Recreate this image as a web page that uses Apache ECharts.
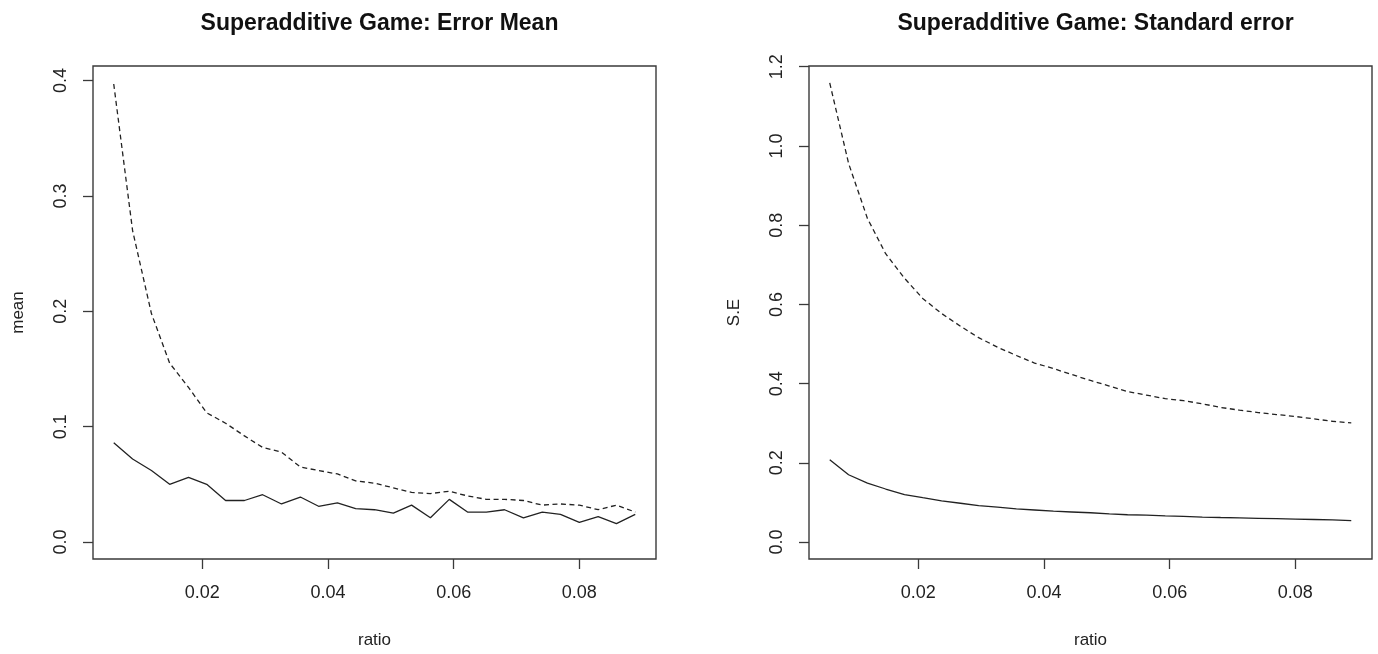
<!DOCTYPE html>
<html>
<head>
<meta charset="utf-8">
<script src="https://cdn.jsdelivr.net/npm/echarts@6/dist/echarts.min.js"></script>
<style>
html,body{margin:0;padding:0;background:#fff;}
#chart{width:1378px;height:654px;}
</style>
</head>
<body>
<div id="chart"></div>
<script>
// ---- data ----
var ratio = [0.0059,0.0089,0.0119,0.0148,0.0178,0.0207,0.0237,0.0267,0.0296,0.0326,0.0356,0.0385,0.0415,0.0444,0.0474,
             0.0504,0.0533,0.0563,0.0593,0.0622,0.0652,0.0681,0.0711,0.0741,0.0770,0.0800,0.0830,0.0859,0.0889];
var meanSolid = [0.086,0.072,0.062,0.050,0.056,0.050,0.036,0.036,0.041,0.033,0.039,0.031,0.034,0.029,0.028,
                 0.025,0.032,0.021,0.037,0.026,0.026,0.028,0.021,0.026,0.024,0.017,0.022,0.016,0.024];
var meanDashed = [0.397,0.270,0.198,0.155,0.134,0.112,0.103,0.092,0.082,0.078,0.065,0.062,0.059,0.053,0.051,
                  0.047,0.043,0.042,0.044,0.040,0.037,0.037,0.036,0.032,0.033,0.032,0.028,0.032,0.026];
var seSolid = [0.208,0.170,0.149,0.134,0.120,0.112,0.104,0.098,0.092,0.088,0.084,0.081,0.078,0.076,0.074,
               0.071,0.069,0.068,0.066,0.065,0.063,0.062,0.061,0.060,0.059,0.058,0.057,0.056,0.054];
var seDashed = [1.159,0.956,0.817,0.728,0.666,0.615,0.577,0.545,0.516,0.492,0.471,0.452,0.438,0.423,0.408,
                0.394,0.380,0.371,0.362,0.357,0.349,0.340,0.333,0.327,0.322,0.317,0.311,0.305,0.301];
var xTicks = [0.02,0.04,0.06,0.08];
var meanTicks = [0.0,0.1,0.2,0.3,0.4];
var seTicks = [0.0,0.2,0.4,0.6,0.8,1.0,1.2];
var titles = ['Superadditive Game: Error Mean','Superadditive Game: Standard error'];
var xName = 'ratio';
var yNames = ['mean','S.E'];

function pairs(xs, ys){ return xs.map(function(x,i){ return [x, ys[i]]; }); }

var FONT = 'Liberation Sans, Arial, sans-serif';
var INK = '#222';
var BOX = '#3a3a3a';

function xAxisFor(gi){
  return {
    type:'value', gridIndex:gi, min:0.0026, max:0.0922,
    name:xName, nameLocation:'middle', nameGap:73,
    nameTextStyle:{fontFamily:FONT,fontSize:17,color:INK},
    axisLine:{show:false, onZero:false},
    splitLine:{show:false},
    axisTick:{show:true, inside:false, length:10, customValues:xTicks, lineStyle:{color:BOX,width:1.3}},
    axisLabel:{show:true, margin:25, customValues:xTicks, fontFamily:FONT, fontSize:18, color:INK,
      formatter:function(v){return v.toFixed(2);}}
  };
}
function yAxisFor(gi, mn, mx, ticks, nm, gap){
  return {
    type:'value', gridIndex:gi, min:mn, max:mx,
    name:nm, nameLocation:'middle', nameGap:gap, nameRotate:90,
    nameTextStyle:{fontFamily:FONT,fontSize:17,color:INK},
    axisLine:{show:false, onZero:false},
    splitLine:{show:false},
    axisTick:{show:true, inside:false, length:10, customValues:ticks, lineStyle:{color:BOX,width:1.3}},
    axisLabel:{show:true, rotate:90, margin:23, customValues:ticks, fontFamily:FONT, fontSize:18, color:INK,
      formatter:function(v){return v.toFixed(1);}}
  };
}
function line(xi, yi, data, dashed, nm){
  return {
    type:'line', name:nm, xAxisIndex:xi, yAxisIndex:yi, data:data,
    showSymbol:false, symbol:'none', smooth:false, animation:false,
    lineStyle:{color:INK, width:1.3, type: dashed ? [5,3.5] : 'solid'}
  };
}

var chart = echarts.init(document.getElementById('chart'), null, {renderer:'canvas'});
chart.setOption({
  backgroundColor:'#fff',
  animation:false,
  title:[
    {text:titles[0], left:374.5, top:7, textAlign:'center',
     textStyle:{fontFamily:FONT,fontSize:23,fontWeight:'bold',color:'#111'}},
    {text:titles[1], left:1090.5, top:7, textAlign:'center',
     textStyle:{fontFamily:FONT,fontSize:23,fontWeight:'bold',color:'#111'}}
  ],
  grid:[
    {left:93, top:66, width:563, height:496, show:true, borderColor:BOX, borderWidth:1.4, backgroundColor:'transparent'},
    {left:809, top:66, width:563, height:496, show:true, borderColor:BOX, borderWidth:1.4, backgroundColor:'transparent'}
  ],
  xAxis:[xAxisFor(0), xAxisFor(1)],
  yAxis:[
    yAxisFor(0, -0.0147, 0.4126, meanTicks, yNames[0], 66),
    yAxisFor(1, -0.0427, 1.2018, seTicks, yNames[1], 66)
  ],
  series:[
    line(0,0,pairs(ratio,meanSolid),false,'mean solid'),
    line(0,0,pairs(ratio,meanDashed),true,'mean dashed'),
    line(1,1,pairs(ratio,seSolid),false,'S.E solid'),
    line(1,1,pairs(ratio,seDashed),true,'S.E dashed')
  ]
});
</script>
</body>
</html>
